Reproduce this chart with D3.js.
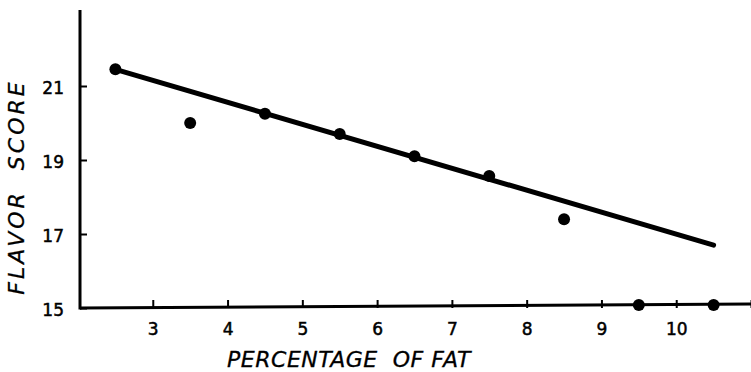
<!DOCTYPE html>
<html>
<head>
<meta charset="utf-8">
<script src="https://cdn.jsdelivr.net/npm/d3@7"></script>
<style>
  body { margin: 0; background: #fff; }
  svg { display: block; }
  .tick text { font-family: "DejaVu Sans", sans-serif; font-size: 17px; fill: #000; stroke: #000; stroke-width: 0.5px; }
  .lbl { font-family: "DejaVu Sans", sans-serif; font-style: italic; font-size: 22px; fill: #000; stroke: #000; stroke-width: 0.3px; }
</style>
</head>
<body>
<div id="chart"></div>
<script>
// données
const fat = [2.5, 3.5, 4.5, 5.5, 6.5, 7.5, 8.5, 9.5, 10.5];
const flavor = [21.45, 20.0, 20.25, 19.7, 19.1, 18.57, 17.4, 15.08, 15.08];
// droite d'ajustement (extrémités)
const fitX = [2.5, 10.5];
const fitY = [21.45, 16.7];
const xTicks = [3, 4, 5, 6, 7, 8, 9, 10, 11];
const yTicks = [15, 17, 19, 21];

const W = 751, H = 372;

const svg = d3.select("#chart")
    .append("svg")
    .attr("width", W)
    .attr("height", H);

const x = d3.scaleLinear().domain([2, 11]).range([78, 751]);
const y = d3.scaleLinear().domain([15, 23]).range([308, 12]);

// axe X
const gx = svg.append("g")
    .attr("transform", `translate(0,${y(15)})`)
    .call(d3.axisBottom(x)
        .tickValues(xTicks)
        .tickFormat(d => d === 11 ? "" : d)
        .tickSizeInner(-8)
        .tickSizeOuter(0)
        .tickPadding(15));
gx.select(".domain").attr("d", `M80,0L${W},-4`);

// axe Y
const gy = svg.append("g")
    .attr("transform", `translate(80,0)`)
    .call(d3.axisLeft(y)
        .tickValues(yTicks)
        .tickSizeInner(-7)
        .tickSizeOuter(0)
        .tickPadding(16));
gy.select(".domain").attr("d", `M0,10V${y(15) + 1.5}`);

svg.selectAll(".domain").attr("stroke", "#000").attr("stroke-width", 3);
svg.selectAll(".tick line").attr("stroke", "#000").attr("stroke-width", 2);
gy.selectAll(".tick text").attr("dy", "0.45em");

// droite
svg.append("line")
    .attr("x1", x(fitX[0])).attr("y1", y(fitY[0]))
    .attr("x2", x(fitX[1])).attr("y2", y(fitY[1]))
    .attr("stroke", "#000")
    .attr("stroke-width", 5)
    .attr("stroke-linecap", "round");

// points
svg.selectAll(".pt")
    .data(fat.map((f, i) => ({ f, s: flavor[i] })))
    .enter()
    .append("circle")
    .attr("class", "pt")
    .attr("cx", d => x(d.f))
    .attr("cy", d => y(d.s))
    .attr("r", 6)
    .attr("fill", "#000");

// titres des axes
svg.append("text")
    .attr("class", "lbl")
    .attr("x", 349)
    .attr("y", 367)
    .attr("text-anchor", "middle")
    .attr("letter-spacing", "0.5px")
    .attr("xml:space", "preserve")
    .text("PERCENTAGE  OF FAT");

svg.append("text")
    .attr("class", "lbl")
    .attr("transform", "translate(24,187) rotate(-90)")
    .attr("text-anchor", "middle")
    .attr("letter-spacing", "3px")
    .attr("xml:space", "preserve")
    .text("FLAVOR  SCORE");
</script>
</body>
</html>
